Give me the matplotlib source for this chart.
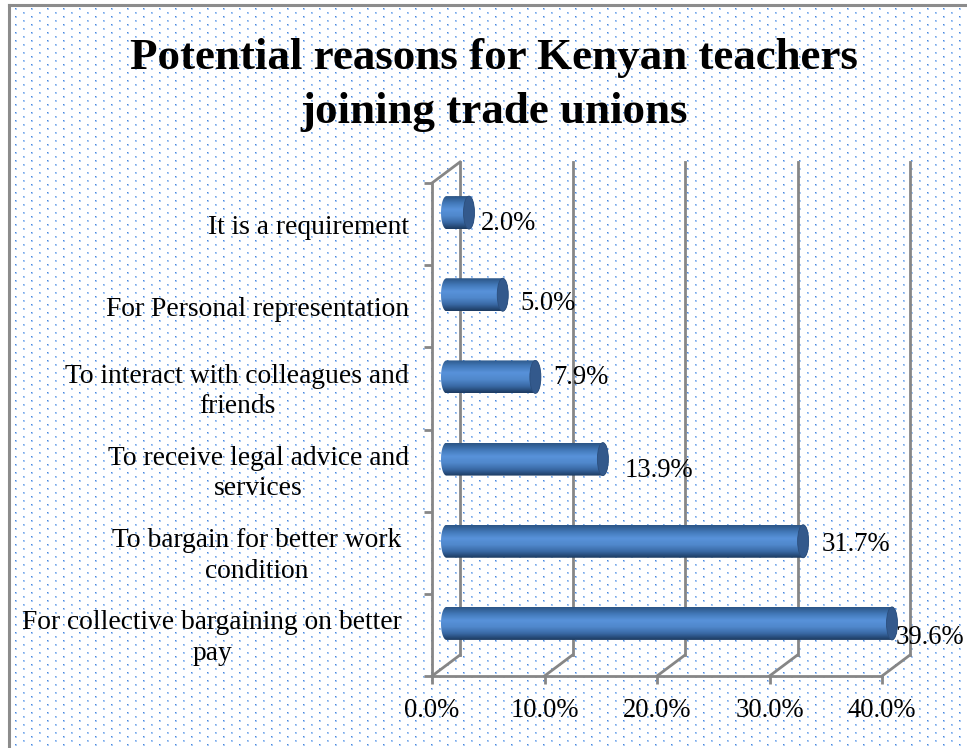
"""Potential reasons for Kenyan teachers joining trade unions - fake 3D cylinder bars"""
import numpy as np
import matplotlib
matplotlib.use("Agg")
import matplotlib.pyplot as plt
from matplotlib.colors import LinearSegmentedColormap
from matplotlib.lines import Line2D
from matplotlib.patches import Ellipse, Polygon

TITLE = "Potential reasons for Kenyan teachers\njoining trade unions"
CATEGORIES = [
    "For collective bargaining on better\npay",
    "To bargain for better work\ncondition",
    "To receive legal advice and\nservices",
    "To interact with colleagues and\nfriends",
    "For Personal representation",
    "It is a requirement",
]
VALUES = [39.6, 31.7, 13.9, 7.9, 5.0, 2.0]
X_TICKS = [0, 10, 20, 30, 40]

W, H = 967, 748
GRID = "#868686"
# pixel nudges, same order as CATEGORIES
LABEL_PAD = [30, 31, 23, 23, 23, 23]
VALUE_DX = [-2, 13, 16, 12, 12, 6]
VALUE_DY = [-14, -3, -11, -1, -9, -11]

plt.rcParams["font.family"] = ["Liberation Serif", "DejaVu Serif"]

fig = plt.figure(figsize=(W / 100, H / 100), dpi=100, facecolor="white")

# dotted page background: dark core with a soft edge, second row paler
bg = np.ones((H, W, 3))
for row, y in enumerate(range(8, H, 4)):
    first = 15 if row % 2 == 0 else 23
    core = [0.30, 0.53, 0.86] if row % 2 == 0 else [0.47, 0.66, 0.91]
    for x in range(first, W, 16):
        bg[y:y + 2, x:x + 2] = [0.66, 0.79, 0.96]
        bg[y, x] = core
fig.figimage(bg, 0, 0, origin="upper", zorder=-1)

fig.add_artist(Line2D([9 / W, 9 / W], [0, 1 - 5 / H], color="#8c8c8c", lw=2.2))
fig.add_artist(Line2D([9 / W, 1], [1 - 5 / H, 1 - 5 / H], color="#8c8c8c", lw=2.2))

fig.text(494 / W, 1 - 85 / H, TITLE, ha="center", va="center", fontsize=32.4,
         fontweight="bold", linespacing=1.47)

# axes box = front face of the chart, 0-40 % and six category slots
ax = fig.add_axes([432 / W, 1 - 676 / H, 450 / W, 493 / H], facecolor="none")
n = len(CATEGORIES)
px_x = 450 / 40
px_y = 493 / n
depth_x = 28 / px_x
depth_y = 21 / px_y

# back wall and floor
for t in X_TICKS:
    ax.plot([t + depth_x, t + depth_x], [depth_y, n + depth_y], color=GRID, lw=2, clip_on=False, zorder=1)
    ax.plot([t, t + depth_x], [0, depth_y], color=GRID, lw=2, clip_on=False, zorder=1)
ax.plot([0, depth_x], [n, n + depth_y], color=GRID, lw=2, clip_on=False, zorder=1)

cmap = LinearSegmentedColormap.from_list(
    "cyl", ["#2b5585", "#4278b8", "#5892da", "#5088cc", "#3a6aa6", "#1c3a60"])
gradient = np.linspace(0, 1, 64).reshape(-1, 1)

start = 14.5 / px_x
half_w = 5.5 / px_x
half_h = 16.5 / px_y
centers = np.arange(n) + 0.5 + 11.5 / px_y
theta = np.linspace(np.pi / 2, 3 * np.pi / 2, 40)

for i, (val, yc) in enumerate(zip(VALUES, centers)):
    end = start + val
    left = np.column_stack([start + half_w * np.cos(theta), yc + half_h * np.sin(theta)])
    right = np.column_stack([end - half_w * np.cos(theta), yc - half_h * np.sin(theta)])
    outline = Polygon(np.vstack([left, right]), closed=True, transform=ax.transData,
                      fc="none", ec="none")
    ax.add_patch(outline)
    im = ax.imshow(gradient, extent=[start - half_w, end + half_w, yc - half_h, yc + half_h],
                   aspect="auto", cmap=cmap, origin="upper", zorder=3, interpolation="bilinear")
    im.set_clip_box(fig.bbox)
    im.set_clip_path(outline)
    ax.add_patch(Ellipse((end, yc), 2 * half_w, 2 * half_h, fc="#33598c", ec="#2b4e7c",
                         lw=0.6, zorder=4, clip_on=False))
    ax.annotate(f"{val:.1f}%", xy=(end + half_w, yc), xytext=(VALUE_DX[i], VALUE_DY[i]),
                textcoords="offset pixels", ha="left", va="center", fontsize=19.2,
                color="black", zorder=6, annotation_clip=False)
    ax.annotate(CATEGORIES[i], xy=(0, i + 0.5), xytext=(-LABEL_PAD[i], -3),
                textcoords="offset pixels", ha="right", va="center", ma="center",
                fontsize=19.8, linespacing=1.3, zorder=6, annotation_clip=False)

ax.set_xlim(0, 40)
ax.set_ylim(0, n)
ax.set_xticks(X_TICKS)
ax.set_xticklabels([f"{t:.1f}%" for t in X_TICKS], fontsize=19.2)
ax.set_yticks(range(n + 1))
ax.set_yticklabels([])
ax.tick_params(axis="both", color=GRID, width=2, length=6)
ax.tick_params(axis="x", pad=10)
for side in ["top", "right"]:
    ax.spines[side].set_visible(False)
for side in ["left", "bottom"]:
    ax.spines[side].set_color(GRID)
    ax.spines[side].set_linewidth(2)
    ax.spines[side].set_zorder(2)

fig.savefig("out.png", dpi=100)
